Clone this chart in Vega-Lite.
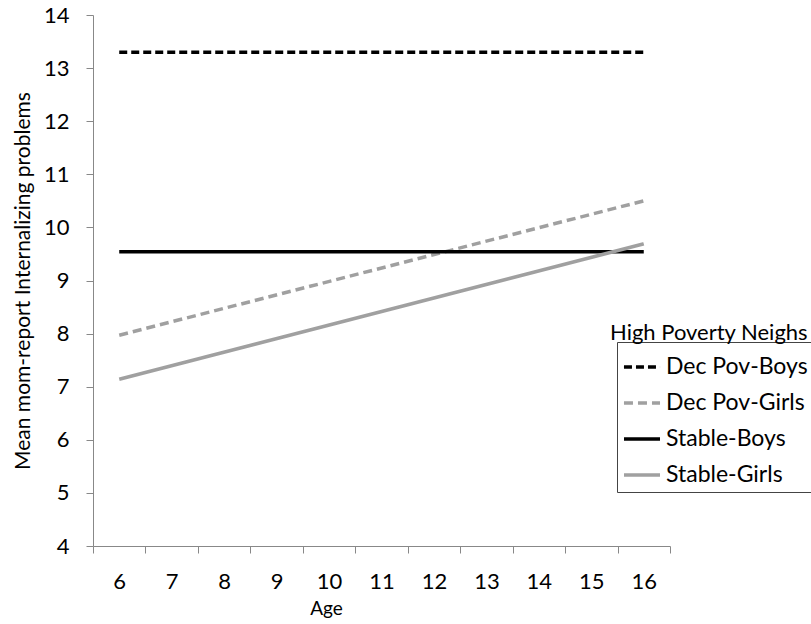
{
  "$schema": "https://vega.github.io/schema/vega-lite/v6.json",
  "width": 577,
  "height": 531,
  "autosize": {"type": "none"},
  "padding": {"left": 93, "top": 15, "right": 141, "bottom": 78},
  "background": "white",
  "title": {
    "text": "High Poverty Neighs",
    "anchor": "start",
    "frame": "group",
    "orient": "top",
    "baseline": "middle",
    "offset": 0,
    "dx": 517,
    "dy": 351,
    "font": "Lato",
    "fontSize": 22,
    "fontWeight": "normal",
    "color": "#000000"
  },
  "data": {
    "values": [
      {"age": "6", "value": 13.3, "series": "Dec Pov-Boys"},
      {"age": "16", "value": 13.3, "series": "Dec Pov-Boys"},
      {"age": "6", "value": 7.97, "series": "Dec Pov-Girls"},
      {"age": "16", "value": 10.5, "series": "Dec Pov-Girls"},
      {"age": "6", "value": 9.54, "series": "Stable-Boys"},
      {"age": "16", "value": 9.54, "series": "Stable-Boys"},
      {"age": "6", "value": 7.14, "series": "Stable-Girls"},
      {"age": "16", "value": 9.69, "series": "Stable-Girls"}
    ]
  },
  "mark": {"type": "line", "strokeWidth": 3.5, "strokeCap": "butt"},
  "encoding": {
    "x": {
      "field": "age",
      "type": "ordinal",
      "scale": {"type": "band", "domain": ["6","7","8","9","10","11","12","13","14","15","16"], "paddingInner": 0, "paddingOuter": 0},
      "axis": {
        "title": "Age",
        "titleFont": "Lato",
        "titleFontSize": 19,
        "titleFontWeight": "normal",
        "titleColor": "#000000",
        "titleX": 233,
        "titleY": 53,
        "titleBaseline": "top",
        "labelFont": "Lato",
        "labelFontSize": 22,
        "labelColor": "#000000",
        "labelAngle": 0,
        "labelPadding": 18,
        "tickBand": "extent",
        "tickSize": 7,
        "tickColor": "#888888",
        "domainColor": "#888888",
        "grid": false
      }
    },
    "y": {
      "field": "value",
      "type": "quantitative",
      "scale": {"domain": [4, 14], "nice": false, "zero": false},
      "axis": {
        "title": "Mean mom-report Internalizing problems",
        "titleFont": "Lato",
        "titleFontSize": 21,
        "titleFontWeight": "normal",
        "titleColor": "#000000",
        "titlePadding": 10,
        "values": [4,5,6,7,8,9,10,11,12,13,14],
        "labelFont": "Lato",
        "labelFontSize": 22,
        "labelColor": "#000000",
        "labelPadding": 17,
        "tickSize": 7,
        "tickColor": "#888888",
        "domainColor": "#888888",
        "grid": false
      }
    },
    "color": {
      "field": "series",
      "type": "nominal",
      "scale": {"domain": ["Dec Pov-Boys", "Dec Pov-Girls", "Stable-Boys", "Stable-Girls"], "range": ["#000000", "#a0a0a0", "#000000", "#a0a0a0"]},
      "legend": {
        "title": null,
        "orient": "none",
        "legendX": 524,
        "legendY": 327,
        "strokeColor": "#444444",
        "padding": 5,
        "symbolType": "stroke",
        "symbolSize": 1300,
        "symbolStrokeWidth": 3.5,
        "labelFont": "Lato",
        "labelFontSize": 23,
        "labelColor": "#000000",
        "labelOffset": 4,
        "rowPadding": 4
      }
    },
    "strokeDash": {
      "field": "series",
      "type": "nominal",
      "scale": {"domain": ["Dec Pov-Boys", "Dec Pov-Girls", "Stable-Boys", "Stable-Girls"], "range": [[8, 4], [9, 5], [1, 0], [1, 0]]},
      "legend": {
        "title": null,
        "orient": "none",
        "legendX": 524,
        "legendY": 327,
        "strokeColor": "#444444",
        "padding": 5,
        "symbolType": "stroke",
        "symbolSize": 1300,
        "symbolStrokeWidth": 3.5,
        "labelFont": "Lato",
        "labelFontSize": 23,
        "labelColor": "#000000",
        "labelOffset": 4,
        "rowPadding": 4
      }
    }
  },
  "config": {"view": {"stroke": null}}
}
